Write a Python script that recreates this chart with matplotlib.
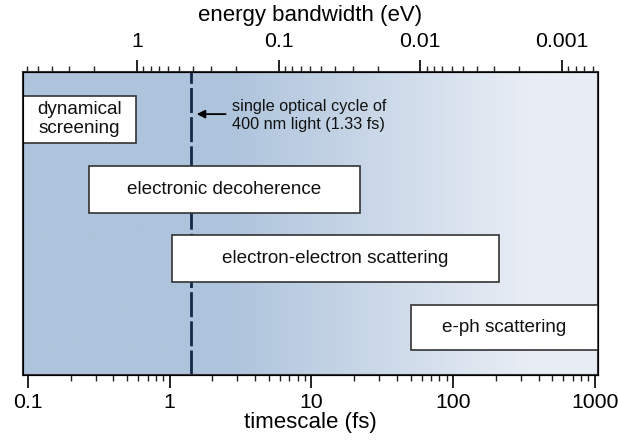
import numpy as np
import matplotlib
matplotlib.use('Agg')
import matplotlib.pyplot as plt
from matplotlib.patches import Rectangle
from matplotlib.colors import LinearSegmentedColormap
from matplotlib.ticker import FixedLocator, NullFormatter, LogLocator

plt.rcParams['font.family'] = ['Liberation Sans', 'DejaVu Sans']
plt.rcParams['lines.scale_dashes'] = False

# time-bandwidth constant (eV*fs), read from where 1 eV sits on the time axis
HB = 0.586

# process boxes: label, start (fs), end (fs), bottom / top in axes fraction
labels = ['dynamical\nscreening', 'electronic decoherence',
          'electron-electron scattering', 'e-ph scattering']
t_start = [0.0922, 0.27, 1.03, 50.0]
t_end = [0.575, 22.0, 212.0, 1043.0]
y_lo = [0.766, 0.535, 0.307, 0.083]
y_hi = [0.921, 0.690, 0.462, 0.231]

t_cycle = 1.41   # single optical cycle marker

e_major = [1, 0.1, 0.01, 0.001]
e_labels = ['1', '0.1', '0.01', '0.001']

fig = plt.figure(figsize=(6.18, 4.48), dpi=100)
ax = fig.add_axes([23/618, 73/448, 574.5/618, 303/448])
ax.set_xscale('log')
ax.set_xlim(0.0922, 1043)
ax.set_ylim(0, 1)

# background gradient
cmap = LinearSegmentedColormap.from_list('bg', [(0, '#aec4dc'), (0.36, '#aec4dc'),
                                                 (0.88, '#e8edf5'), (1, '#e8edf5')])
grad = np.linspace(0, 1, 512).reshape(1, -1)
ax.imshow(grad, cmap=cmap, extent=[0, 1, 0, 1], transform=ax.transAxes,
          aspect='auto', zorder=0)

ax.axvline(t_cycle, color='#14294a', lw=2, dashes=(18, 3), zorder=2)

tr = ax.get_xaxis_transform()
for lab, a, b, lo, hi in zip(labels, t_start, t_end, y_lo, y_hi):
    ax.add_patch(Rectangle((a, lo), b - a, hi - lo, transform=tr, facecolor='white',
                           edgecolor='#333333', lw=1.2, zorder=3))
    xc = np.sqrt(a * b)
    ax.text(xc, (lo + hi) / 2, lab, transform=tr, ha='center', va='center',
            fontsize=13.6, color='#111111', zorder=4, linespacing=1.15)

ax.annotate('', xy=(1.55, 0.861), xytext=(2.48, 0.861), xycoords=tr,
            arrowprops=dict(arrowstyle='-|>', color='black', lw=1.3,
                            mutation_scale=12, shrinkA=0, shrinkB=0), zorder=4)
ax.text(2.74, 0.856, 'single optical cycle of\n400 nm light (1.33 fs)',
        transform=tr, ha='left', va='center', fontsize=11.7, linespacing=1.3,
        color='#111111', zorder=4)

ax.set_yticks([])
for s in ax.spines.values():
    s.set_color('#333333')
    s.set_linewidth(1.5)

ax.xaxis.set_major_locator(FixedLocator([0.1, 1, 10, 100, 1000]))
ax.set_xticklabels(['0.1', '1', '10', '100', '1000'])
ax.xaxis.set_minor_locator(LogLocator(base=10, subs=np.arange(2, 10)))
ax.xaxis.set_minor_formatter(NullFormatter())
ax.tick_params(axis='x', which='major', length=9, width=1.4, labelsize=15.3,
               pad=4, color='#222222')
ax.tick_params(axis='x', which='minor', length=4, width=1.0, color='#222222')
ax.set_xlabel('timescale (fs)', fontsize=16, labelpad=0)

# top axis: energy bandwidth E = HB / t
top = ax.twiny()
top.set_xscale('log')
top.set_xlim(ax.get_xlim())
top.xaxis.set_major_locator(FixedLocator([HB / e for e in e_major]))
top.set_xticklabels(e_labels)
e_minor = [k * 10.0**n for n in range(-4, 1) for k in range(2, 10)]
top.xaxis.set_minor_locator(FixedLocator([HB / e for e in e_minor]))
top.xaxis.set_minor_formatter(NullFormatter())
top.tick_params(axis='x', which='major', length=9, width=1.4, labelsize=15.3,
                pad=6, color='#222222')
top.tick_params(axis='x', which='minor', length=4, width=1.0, color='#222222')
top.set_xlabel('energy bandwidth (eV)', fontsize=16, labelpad=8)
top.set_yticks([])

fig.savefig('out.png', dpi=100)
